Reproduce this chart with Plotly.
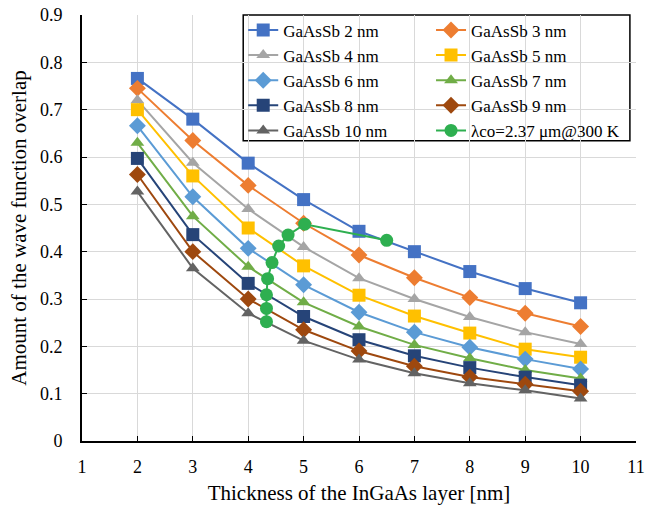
import plotly.graph_objects as go

# InGaAs layer thickness [nm]
thickness = [2, 3, 4, 5, 6, 7, 8, 9, 10]

# Wave function overlap for each GaAsSb layer thickness
overlap_2nm = [0.766, 0.680, 0.587, 0.510, 0.443, 0.400, 0.358, 0.322, 0.292]
overlap_3nm = [0.745, 0.635, 0.540, 0.460, 0.393, 0.345, 0.303, 0.270, 0.242]
overlap_4nm = [0.720, 0.588, 0.490, 0.410, 0.344, 0.300, 0.262, 0.230, 0.205]
overlap_5nm = [0.700, 0.560, 0.450, 0.370, 0.308, 0.264, 0.228, 0.194, 0.177]
overlap_6nm = [0.666, 0.516, 0.407, 0.330, 0.272, 0.230, 0.198, 0.173, 0.152]
overlap_7nm = [0.630, 0.475, 0.368, 0.293, 0.242, 0.203, 0.175, 0.150, 0.132]
overlap_8nm = [0.597, 0.436, 0.333, 0.263, 0.214, 0.180, 0.155, 0.135, 0.118]
overlap_9nm = [0.563, 0.400, 0.300, 0.235, 0.190, 0.158, 0.135, 0.120, 0.105]
overlap_10nm = [0.527, 0.365, 0.270, 0.212, 0.172, 0.143, 0.122, 0.107, 0.090]

# Cut-off wavelength 2.37 um @ 300 K contour
cutoff_x = [4.33, 4.33, 4.33, 4.35, 4.43, 4.55, 4.72, 5.02, 6.50]
cutoff_y = [0.252, 0.280, 0.309, 0.343, 0.377, 0.412, 0.435, 0.458, 0.424]

series = [
    ("GaAsSb 2 nm", overlap_2nm, "#4472C4", "square", 13, "legend"),
    ("GaAsSb 3 nm", overlap_3nm, "#ED7D31", "diamond", 13, "legend2"),
    ("GaAsSb 4 nm", overlap_4nm, "#A5A5A5", "triangle-up", 12, "legend"),
    ("GaAsSb 5 nm", overlap_5nm, "#FFC000", "square", 13, "legend2"),
    ("GaAsSb 6 nm", overlap_6nm, "#5B9BD5", "diamond", 13, "legend"),
    ("GaAsSb 7 nm", overlap_7nm, "#70AD47", "triangle-up", 12, "legend2"),
    ("GaAsSb 8 nm", overlap_8nm, "#264478", "square", 13, "legend"),
    ("GaAsSb 9 nm", overlap_9nm, "#9E480E", "diamond", 13, "legend2"),
    ("GaAsSb 10 nm", overlap_10nm, "#636363", "triangle-up", 12, "legend"),
]

fig = go.Figure()
for name, ys, color, symbol, size, leg in series:
    fig.add_trace(go.Scatter(
        x=thickness, y=ys, name=name, mode="lines+markers",
        line=dict(color=color, width=2),
        marker=dict(symbol=symbol, size=size, color=color),
        legend=leg,
    ))

fig.add_trace(go.Scatter(
    x=cutoff_x, y=cutoff_y, name="λco=2.37 μm@300 K", mode="lines+markers",
    line=dict(color="#2EAF50", width=2),
    marker=dict(symbol="circle", size=13, color="#2EAF50"),
    legend="legend2",
))

font_family = "Liberation Serif"
legend_style = dict(
    font=dict(family=font_family, size=17, color="black"),
    bgcolor="rgba(255,255,255,0)", borderwidth=0,
    xanchor="left", yanchor="top", tracegroupgap=2, traceorder="grouped",
)

fig.update_layout(
    width=645, height=509,
    margin=dict(l=82, r=9, t=15, b=68, autoexpand=False),
    paper_bgcolor="white", plot_bgcolor="white",
    font=dict(family=font_family, size=18, color="black"),
    showlegend=True,
    legend=dict(x=0.291, y=1.006, **legend_style),
    legend2=dict(x=0.630, y=1.006, **legend_style),
    shapes=[dict(type="rect", xref="paper", yref="paper",
                 x0=0.291, x1=0.989, y0=0.705, y1=1.0,
                 line=dict(color="black", width=1.5),
                 fillcolor="white", layer="below")],
)

fig.update_xaxes(
    range=[1, 11], dtick=1, tick0=1, automargin=False,
    showgrid=True, gridcolor="#D9D9D9", gridwidth=1,
    showline=True, linecolor="black", linewidth=2,
    ticks="inside", ticklen=5, tickcolor="black",
    ticklabelstandoff=8, ticklabeloverflow="allow",
    tickfont=dict(family=font_family, size=18),
    title=dict(text="Thickness of the InGaAs layer [nm]",
               font=dict(family=font_family, size=21), standoff=10),
    zeroline=False,
)
fig.update_yaxes(
    range=[0, 0.9], dtick=0.1, tick0=0, automargin=False,
    showgrid=True, gridcolor="#D9D9D9", gridwidth=1,
    showline=True, linecolor="black", linewidth=2,
    ticks="inside", ticklen=5, tickcolor="black",
    ticklabelstandoff=14, ticklabeloverflow="allow",
    tickfont=dict(family=font_family, size=18),
    title=dict(text="Amount of the wave function overlap",
               font=dict(family=font_family, size=21), standoff=8),
    zeroline=False,
)

fig.write_html("out.html")
